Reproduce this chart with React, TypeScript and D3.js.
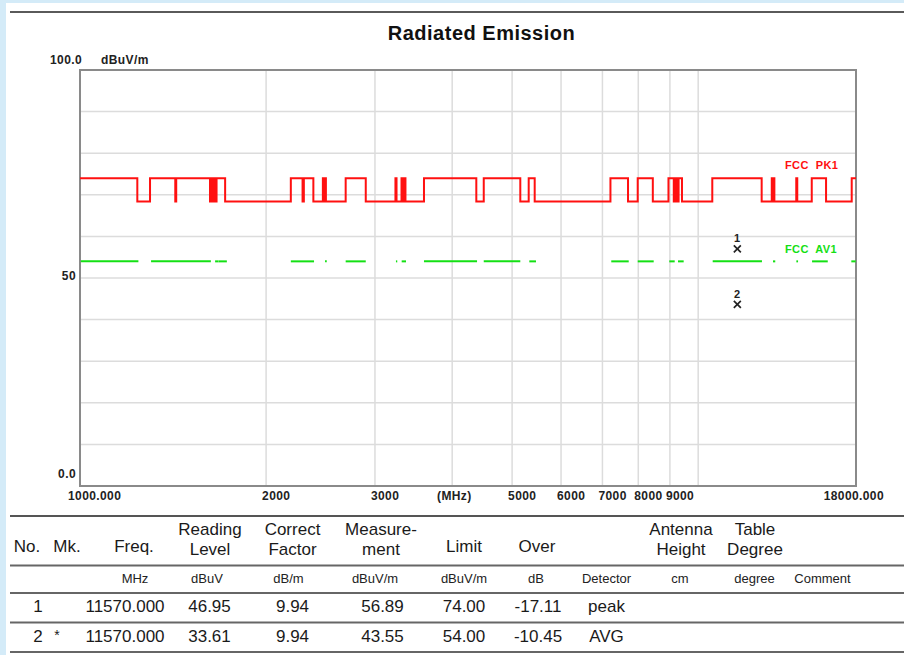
import * as d3 from 'd3';

// FCC PK1 limit trace: spans (MHz) where it sits at PK_HIGH, PK_LOW in between
const PK_HIGH = 74;
const PK_LOW = 68.4;
const PK_SPANS: [number, number][] = [
  [1000, 1238], [1298, 1426], [1431, 1623], [1635, 1643], [1651, 1657], [1663, 1717],
  [2193, 2291], [2302, 2385], [2471, 2480], [2489, 2499], [2690, 2899],
  [3238, 3251], [3312, 3324], [3337, 3361], [3601, 4376], [4499, 5155], [5319, 5439],
  [7212, 7700], [7983, 8445], [8952, 9131], [9165, 9199], [9233, 9268], [9296, 9414],
  [10539, 12667], [13153, 13202], [13241, 13281], [14409, 14463], [15265, 16100],
  [17715, 18000],
];

// FCC AV1 limit trace: only drawn over these spans (MHz)
const AV_LEVEL = 54;
const AV_SPANS: [number, number][] = [
  [1003, 1243], [1303, 1628], [1654, 1673], [1674, 1728], [2193, 2391], [2491, 2507],
  [2690, 2899], [3244, 3260], [3314, 3368], [3601, 4388], [4499, 5155], [5331, 5465],
  [7234, 7720], [7983, 8473], [8979, 9162], [9275, 9474], [10555, 12681], [13213, 13325],
  [14414, 14506], [15282, 16203], [17689, 17981],
];

const X_GRID = [2000, 3000, 4000, 5000, 6000, 7000, 8000, 9000, 10000];
const X_TICKS = [2000, 3000, 5000, 6000, 7000, 8000, 9000];
const X_TICK_LABELS = ['2000', '3000', '5000', '6000', '7000', '8000', '9000'];
const Y_GRID = [10, 20, 30, 40, 50, 60, 70, 80, 90];

const MARKER_NO = ['1', '2'];
const MARKER_FREQ = [11570, 11570];
const MARKER_LEVEL = [56.89, 43.55];

// result table
const HEADERS = [
  ['No.'], ['Mk.'], ['Freq.'], ['Reading', 'Level'], ['Correct', 'Factor'], ['Measure-', 'ment'],
  ['Limit'], ['Over'], [], ['Antenna', 'Height'], ['Table', 'Degree'], [],
];
const UNITS = ['', '', 'MHz', 'dBuV', 'dB/m', 'dBuV/m', 'dBuV/m', 'dB', 'Detector', 'cm', 'degree', 'Comment'];
const ROW1 = ['1', '', '11570.000', '46.95', '9.94', '56.89', '74.00', '-17.11', 'peak'];
const ROW2 = ['2', '*', '11570.000', '33.61', '9.94', '43.55', '54.00', '-10.45', 'AVG'];

// layout
const W = 904;
const H = 655;
const M = { left: 80, top: 70, right: 856, bottom: 486 };
const HEADER_X = [27, 67, 134, 210, 292.5, 381, 464, 537, 606, 681, 755, 822];
const UNIT_X = [27, 67, 135, 207, 288.5, 375, 464, 536, 606.5, 680, 754.5, 822.5];
const VALUE_X = [38, 57, 125, 209.5, 292.5, 382.5, 464, 538, 606.5];
const TABLE_LINES = [565.5, 593, 622.5, 652];

const AXIS_FONT = {
  fontFamily: '"Liberation Sans", Arial, sans-serif',
  fontWeight: 700,
  fontSize: 12,
  letterSpacing: 0.4,
} as const;
const TABLE_FONT = '"Liberation Sans", Arial, sans-serif';

export default function App() {
  const x = d3.scaleLog().domain([1000, 18000]).range([M.left, M.right]);
  const y = d3.scaleLinear().domain([0, 100]).range([M.bottom, M.top]);

  const pkPts: [number, number][] = [];
  PK_SPANS.forEach(([a, b]) => {
    if (a > 1000) pkPts.push([a, PK_LOW]);
    pkPts.push([a, PK_HIGH], [b, PK_HIGH]);
    if (b < 18000) pkPts.push([b, PK_LOW]);
  });
  const line = d3
    .line<[number, number]>()
    .x((d) => x(d[0]))
    .y((d) => y(d[1]));

  return (
    <svg
      width={W}
      height={H}
      style={{ position: 'absolute', left: 0, top: 0, display: 'block' }}
    >
      <rect width={W} height={H} fill="#d4ebf8" />
      <rect x={6} y={3} width={W - 6} height={H - 3} fill="#ffffff" />
      <line x1={10} x2={W} y1={12} y2={12} stroke="#5a5a5a" strokeWidth={1.8} />

      <text
        x={481.5}
        y={40}
        textAnchor="middle"
        fontFamily='"Liberation Sans", Arial, sans-serif'
        fontWeight={700}
        fontSize={20}
        letterSpacing={0.5}
        fill="#111"
      >
        Radiated Emission
      </text>

      <defs>
        <clipPath id="plot">
          <rect x={M.left} y={M.top} width={M.right - M.left} height={M.bottom - M.top} />
        </clipPath>
      </defs>

      {Y_GRID.map((v) => (
        <line key={'h' + v} x1={M.left} x2={M.right} y1={y(v)} y2={y(v)} stroke="#dcdcdc" strokeWidth={1.5} />
      ))}
      {X_GRID.map((f) => (
        <line key={'v' + f} x1={x(f)} x2={x(f)} y1={M.top} y2={M.bottom} stroke="#dcdcdc" strokeWidth={1.5} />
      ))}
      <rect
        x={M.left}
        y={M.top}
        width={M.right - M.left}
        height={M.bottom - M.top}
        fill="none"
        stroke="#8a8a8a"
        strokeWidth={2}
      />

      <g clipPath="url(#plot)">
        <path d={line(pkPts) ?? ''} fill="none" stroke="#ff1010" strokeWidth={2} />
        {AV_SPANS.map(([a, b]) => (
          <line key={'av' + a} x1={x(a)} x2={x(b)} y1={y(AV_LEVEL)} y2={y(AV_LEVEL)} stroke="#14e014" strokeWidth={2} />
        ))}
      </g>

      <text x={785} y={169} fill="#ff1010" {...AXIS_FONT} fontSize={11} style={{ whiteSpace: 'pre' }}>
        {'FCC  PK1'}
      </text>
      <text x={785} y={252.5} fill="#14e014" {...AXIS_FONT} fontSize={11} style={{ whiteSpace: 'pre' }}>
        {'FCC  AV1'}
      </text>

      {MARKER_NO.map((n, i) => {
        const mx = x(MARKER_FREQ[i]);
        const my = y(MARKER_LEVEL[i]);
        return (
          <g key={'mk' + n} stroke="#222" strokeWidth={1.6}>
            <line x1={mx - 3.5} x2={mx + 3.5} y1={my - 4} y2={my + 3} />
            <line x1={mx - 3.5} x2={mx + 3.5} y1={my + 3} y2={my - 4} />
            <text x={mx} y={my - 7} textAnchor="middle" stroke="none" fill="#222" {...AXIS_FONT} fontSize={11}>
              {n}
            </text>
          </g>
        );
      })}

      <text x={50} y={64} fill="#222" {...AXIS_FONT}>100.0</text>
      <text x={101} y={64} fill="#222" {...AXIS_FONT}>dBuV/m</text>
      <text x={76} y={280} textAnchor="end" fill="#222" {...AXIS_FONT}>50</text>
      <text x={76} y={478} textAnchor="end" fill="#222" {...AXIS_FONT}>0.0</text>

      <text x={68} y={500} fill="#222" {...AXIS_FONT}>1000.000</text>
      <text x={884} y={500} textAnchor="end" fill="#222" {...AXIS_FONT}>18000.000</text>
      {X_TICKS.map((f, i) => (
        <text key={'xt' + f} x={x(f) - 4} y={500} fill="#222" {...AXIS_FONT}>
          {X_TICK_LABELS[i]}
        </text>
      ))}
      <text x={437} y={500} fill="#222" {...AXIS_FONT}>(MHz)</text>

      {/* table */}
      <line x1={10} x2={W} y1={516} y2={516} stroke="#555" strokeWidth={2} />
      {TABLE_LINES.map((ly) => (
        <line key={'tl' + ly} x1={10} x2={W} y1={ly} y2={ly} stroke="#666" strokeWidth={2} />
      ))}
      <g fontFamily={TABLE_FONT} fontSize={17} fill="#1a1a1a" textAnchor="middle">
        {HEADERS.map((lines, i) =>
          lines.length === 1 ? (
            <text key={'hd' + i} x={HEADER_X[i]} y={552}>{lines[0]}</text>
          ) : lines.length === 2 ? (
            <g key={'hd' + i}>
              <text x={HEADER_X[i]} y={535}>{lines[0]}</text>
              <text x={HEADER_X[i]} y={555}>{lines[1]}</text>
            </g>
          ) : null
        )}
      </g>
      <g fontFamily={TABLE_FONT} fontSize={13} fill="#222" textAnchor="middle">
        {UNITS.map((u, i) => (
          <text key={'un' + i} x={UNIT_X[i]} y={583}>{u}</text>
        ))}
      </g>
      <g fontFamily={TABLE_FONT} fontSize={17} fill="#1a1a1a" textAnchor="middle">
        {ROW1.map((v, i) => (
          <text key={'r1' + i} x={VALUE_X[i]} y={612}>{v}</text>
        ))}
        {ROW2.map((v, i) => (
          <text key={'r2' + i} x={VALUE_X[i]} y={i === 1 ? 640 : 642} fontSize={i === 1 ? 14 : 17}>{v}</text>
        ))}
      </g>
    </svg>
  );
}
